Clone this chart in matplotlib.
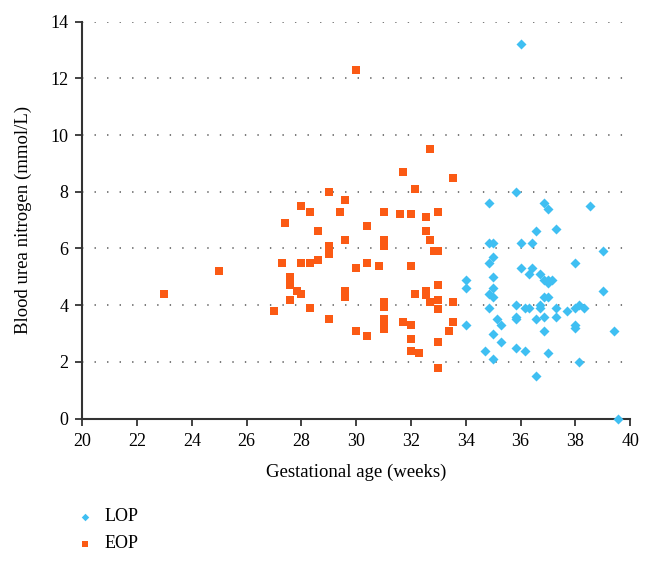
import matplotlib
matplotlib.use("Agg")
import matplotlib.pyplot as plt

plt.rcParams['font.family'] = ['Liberation Serif', 'DejaVu Serif']

# Late-onset (LOP) and early-onset (EOP) groups: gestational age vs BUN
lop_age = [34.0, 34.0, 34.0, 34.7, 34.85, 34.85, 34.85, 34.85, 34.85,
           35.0, 35.0, 35.0, 35.0, 35.0, 35.0, 35.0, 35.15, 35.3, 35.3,
           35.85, 35.85, 35.85, 35.85, 35.85, 36.0, 36.0, 36.0, 36.15, 36.15,
           36.3, 36.3, 36.4, 36.4, 36.55, 36.55, 36.55, 36.7, 36.7, 36.7,
           36.85, 36.85, 36.85, 36.85, 36.85, 37.0, 37.0, 37.0, 37.0, 37.0,
           37.15, 37.3, 37.3, 37.3, 37.7, 38.0, 38.0, 38.0, 38.0, 38.15,
           38.15, 38.3, 38.55, 39.0, 39.0, 39.4, 39.55]
lop_bun = [4.9, 4.6, 3.3, 2.4, 7.6, 6.2, 5.5, 4.4, 3.9,
           6.2, 5.7, 5.0, 4.6, 4.3, 3.0, 2.1, 3.5, 3.3, 2.7,
           8.0, 4.0, 3.6, 3.5, 2.5, 13.2, 6.2, 5.3, 3.9, 2.4,
           5.1, 3.9, 6.2, 5.3, 6.6, 3.5, 1.5, 5.1, 4.0, 3.9,
           7.6, 4.9, 4.3, 3.6, 3.1, 7.4, 4.9, 4.8, 4.3, 2.3,
           4.9, 6.7, 3.9, 3.6, 3.8, 5.5, 3.9, 3.3, 3.2, 4.0,
           2.0, 3.9, 7.5, 5.9, 4.5, 3.1, 0.0]

eop_age = [23.0, 25.0, 27.0, 27.3, 27.4, 27.6, 27.6, 27.6, 27.85, 28.0,
           28.0, 28.3, 28.0, 28.3, 28.3, 28.6, 28.6, 29.0, 29.0, 29.0,
           29.0, 29.4, 29.6, 29.6, 29.6, 29.6, 30.0, 30.0, 30.0, 30.4,
           30.4, 30.4, 30.85, 31.0, 31.0, 31.0, 31.0, 31.0, 31.0, 31.0,
           31.0, 31.6, 31.7, 31.7, 32.0, 32.0, 32.0, 32.0, 32.0, 32.15,
           32.15, 32.3, 32.55, 32.55, 32.55, 32.55, 32.7, 32.7, 32.7, 32.85,
           33.0, 33.0, 33.0, 33.0, 33.0, 33.0, 33.0, 33.4, 33.55, 33.55,
           33.55]
eop_bun = [4.4, 5.2, 3.8, 5.5, 6.9, 5.0, 4.7, 4.2, 4.5, 4.4,
           7.5, 7.3, 5.5, 5.5, 3.9, 6.6, 5.6, 8.0, 6.1, 5.8,
           3.5, 7.3, 7.7, 6.3, 4.5, 4.3, 12.3, 5.3, 3.1, 6.8,
           5.5, 2.9, 5.4, 7.3, 6.3, 6.1, 4.1, 3.95, 3.5, 3.3,
           3.15, 7.2, 8.7, 3.4, 7.2, 5.4, 3.3, 2.8, 2.4, 8.1,
           4.4, 2.3, 7.1, 6.6, 4.5, 4.35, 9.5, 6.3, 4.1, 5.9,
           5.9, 7.3, 4.7, 4.2, 3.85, 2.7, 1.8, 3.1, 8.5, 4.1,
           3.4]

x_ticks = list(range(20, 41, 2))
y_ticks = list(range(0, 15, 2))

blue = '#3fbff2'
orange = '#fb5a14'

fig = plt.figure(figsize=(6.53, 5.66), dpi=100)
ax = fig.add_axes([0.126, 0.2604, 0.839, 0.7013])

ax.scatter(lop_age, lop_bun, marker='D', s=26, color=blue, linewidths=0,
           label='LOP', clip_on=False, zorder=3)
ax.scatter(eop_age, eop_bun, marker='s', s=36, color=orange, linewidths=0,
           label='EOP', clip_on=False, zorder=3)

ax.set_xlim(20, 40)
ax.set_ylim(0, 14)
ax.set_xticks(x_ticks)
ax.set_yticks(y_ticks)

# dotted horizontal guides
for y in y_ticks[1:]:
    ax.axhline(y, color='#555555', linewidth=1.1, linestyle=(0, (0.9, 7.3)), zorder=1)

for side in ['top', 'right']:
    ax.spines[side].set_visible(False)
for side in ['left', 'bottom']:
    ax.spines[side].set_color('#333333')
    ax.spines[side].set_linewidth(1.5)

ax.tick_params(direction='out', length=5, width=1.3, color='#333333',
               labelsize=13, pad=5)

ax.set_xlabel('Gestational age (weeks)', fontsize=13.5, labelpad=10)
ax.set_ylabel('Blood urea nitrogen (mmol/L)', fontsize=13.5, labelpad=13)

ax.legend(loc='upper left', bbox_to_anchor=(-0.012, -0.226), frameon=False,
          fontsize=13, handletextpad=0.6, labelspacing=0.55,
          handlelength=1.0, markerscale=0.75, borderpad=0, borderaxespad=0)

fig.savefig('out.png', dpi=100)
